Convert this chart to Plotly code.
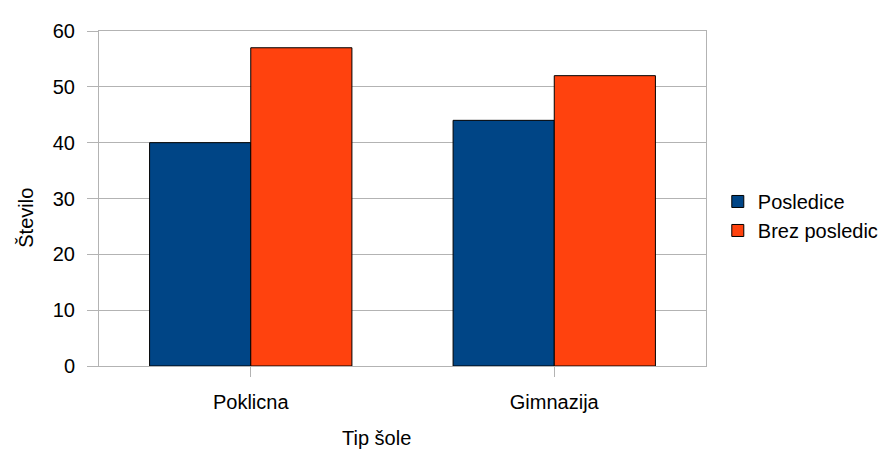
import plotly.graph_objects as go

categories = ["Poklicna", "Gimnazija"]
posledice = [40, 44]
brez_posledic = [57, 52]
series_names = ["Posledice", "Brez posledic"]
colors = ["#004586", "#ff420e"]

OFF = 8  # default page body margin shifts the figure by this much
W, H = 896 - OFF, 452 - OFF
L, R, T, B = 99 - OFF, 717 - OFF, 21 - OFF, 366 - OFF
PW, PH = R - L, B - T

font = dict(family="Liberation Sans, Arial, sans-serif", size=20, color="#000000")

fig = go.Figure()
for name, vals, col in zip(series_names, [posledice, brez_posledic], colors):
    fig.add_trace(go.Bar(x=categories, y=vals, name=name,
                         marker=dict(color=col, line=dict(color="#000000", width=1))))

fig.update_layout(
    width=W, height=H,
    margin=dict(l=L, r=W - R, t=T, b=H - B, pad=0),
    paper_bgcolor="white", plot_bgcolor="white",
    font=font,
    barmode="group", bargap=1/3, bargroupgap=0,
    showlegend=True,
    legend=dict(x=(729 - OFF - L) / PW, y=(B - (211.5 - OFF)) / PH, xanchor="left", yanchor="middle",
                font=font, bgcolor="rgba(0,0,0,0)", borderwidth=0),
    xaxis=dict(showgrid=False, showline=True, linecolor="#b3b3b3", linewidth=1, mirror=True,
               ticks="outside", ticklen=10, tickcolor="#b3b3b3", tickwidth=1,
               ticklabelstandoff=8, tickfont=font),
    yaxis=dict(range=[0, 60], dtick=10, showgrid=True, gridcolor="#b3b3b3", gridwidth=1,
               showline=True, linecolor="#b3b3b3", linewidth=1, mirror=True,
               zeroline=False, ticks="outside", ticklen=11, tickcolor="#b3b3b3", tickwidth=1,
               ticklabelstandoff=8, tickfont=font),
    annotations=[
        dict(text="Tip šole", xref="paper", yref="paper", x=(382 - OFF - L) / PW,
             y=-(440 - OFF - B) / PH,
             xanchor="center", yanchor="middle", showarrow=False, font=font),
        dict(text="Število", xref="paper", yref="paper", x=-(L - (25 - OFF)) / PW,
             y=(B - (213 - OFF)) / PH,
             xanchor="center", yanchor="middle", showarrow=False, textangle=-90, font=font),
    ],
)

fig.write_html("out.html")
